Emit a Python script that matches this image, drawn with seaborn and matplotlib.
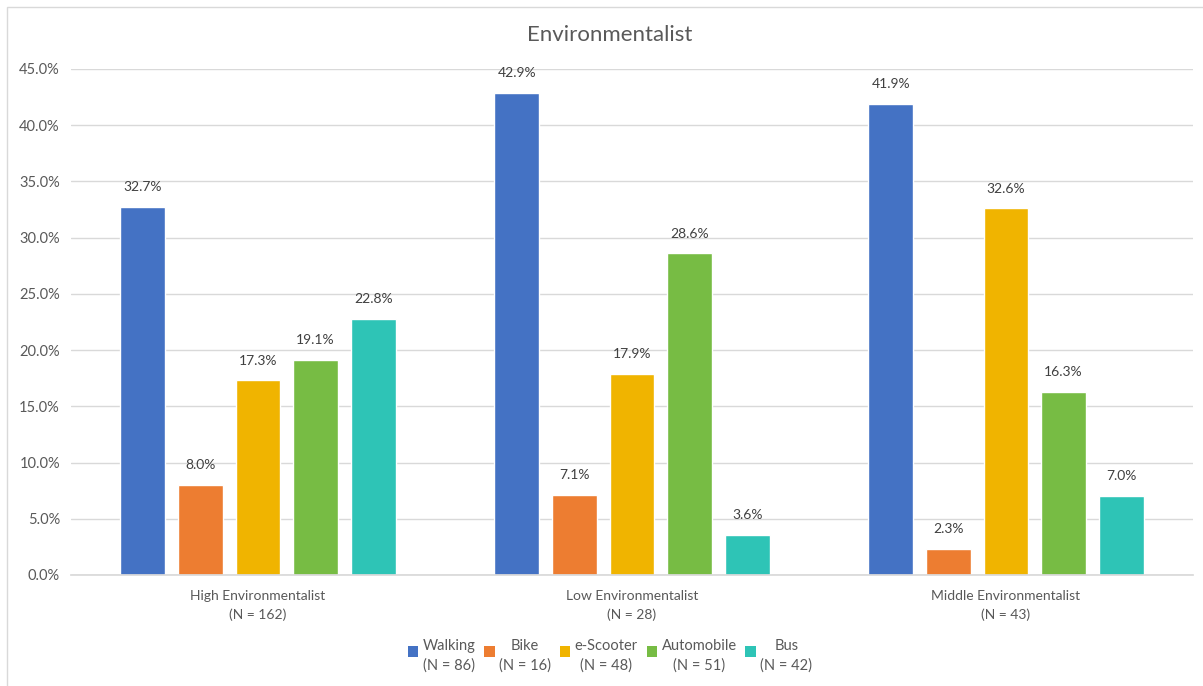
import matplotlib
matplotlib.use("Agg")
import matplotlib.pyplot as plt
import seaborn as sns
import pandas as pd
from matplotlib.patches import Rectangle
from matplotlib.ticker import FuncFormatter
from matplotlib.legend_handler import HandlerPatch

categories = ["High Environmentalist\n(N = 162)", "Low Environmentalist\n(N = 28)", "Middle Environmentalist\n(N = 43)"]
series = ["Walking\n(N = 86)", "Bike\n(N = 16)", "e-Scooter\n(N = 48)", "Automobile\n(N = 51)", "Bus\n(N = 42)"]
walking = [32.7, 42.9, 41.9]
bike = [8.0, 7.1, 2.3]
escooter = [17.3, 17.9, 32.6]
automobile = [19.1, 28.6, 16.3]
bus = [22.8, 3.6, 7.0]
colors = ["#4472C4", "#ED7D31", "#F0B400", "#77BC44", "#2EC4B6"]

vals = [walking, bike, escooter, automobile, bus]
rows = []
for s, v in zip(series, vals):
    for c, x in zip(categories, v):
        rows.append({"cat": c, "series": s, "value": x / 100})
df = pd.DataFrame(rows)

sns.set_theme(style="white")
plt.rcParams["font.family"] = ["Lato", "DejaVu Sans"]

fig = plt.figure(figsize=(12.03, 6.86), dpi=100)
ax = fig.add_axes([71 / 1203, 1 - 575 / 686, (1193 - 71) / 1203, (575 - 69) / 686])

sns.barplot(data=df, x="cat", y="value", hue="series", order=categories, hue_order=series,
            palette=colors, width=0.77, gap=0.22, ax=ax, saturation=1, legend=True)

ax.set_xlim(-0.5, 2.5)
ax.set_ylim(0, 0.45)
ax.set_yticks([i * 0.05 for i in range(10)])
ax.yaxis.set_major_formatter(FuncFormatter(lambda v, p: f"{v*100:.1f}%"))
ax.grid(axis="y", color="#D9D9D9", linewidth=1)
ax.set_axisbelow(True)
for sp in ["top", "right", "left"]:
    ax.spines[sp].set_visible(False)
ax.spines["bottom"].set_color("#D9D9D9")
ax.set_xlabel("")
ax.set_ylabel("")
ax.tick_params(axis="y", length=0, labelsize=10.5, colors="#595959", pad=8)
ax.tick_params(axis="x", length=0, labelsize=10, colors="#595959", pad=11)
for t in ax.get_xticklabels():
    t.set_multialignment("center")
    t.set_linespacing(1.55)

for cont in ax.containers:
    ax.bar_label(cont, labels=[f"{b.get_height()*100:.1f}%" for b in cont], padding=10,
                 fontsize=10, color="#404040")


class TopSquare(HandlerPatch):
    def create_artists(self, legend, orig_handle, xdescent, ydescent, width, height, fontsize, trans):
        s = 0.72 * fontsize
        p = Rectangle((-xdescent, -ydescent + height - s), s, s,
                      facecolor=orig_handle.get_facecolor(), edgecolor="none", transform=trans)
        return [p]


handles, labels = ax.get_legend_handles_labels()
ax.get_legend().remove()
leg = fig.legend(handles, labels, loc="center", bbox_to_anchor=(610 / 1203, 1 - 656 / 686), ncol=5,
                 frameon=False, fontsize=10.5, handlelength=0.72, handleheight=1.9,
                 handletextpad=0.3, columnspacing=0.6, labelcolor="#595959",
                 handler_map={h: TopSquare() for h in handles})
for t in leg.get_texts():
    t.set_multialignment("center")
    t.set_linespacing(1.45)

fig.text(610 / 1203, 1 - 35 / 686, "Environmentalist", ha="center", va="center", fontsize=16, color="#595959")

fig.patches.append(Rectangle((7 / 1203, -0.1), 1.2, 1 - 7 / 686 + 0.1, transform=fig.transFigure,
                             fill=False, edgecolor="#D9D9D9", linewidth=1))

fig.savefig("out.png", dpi=100)
